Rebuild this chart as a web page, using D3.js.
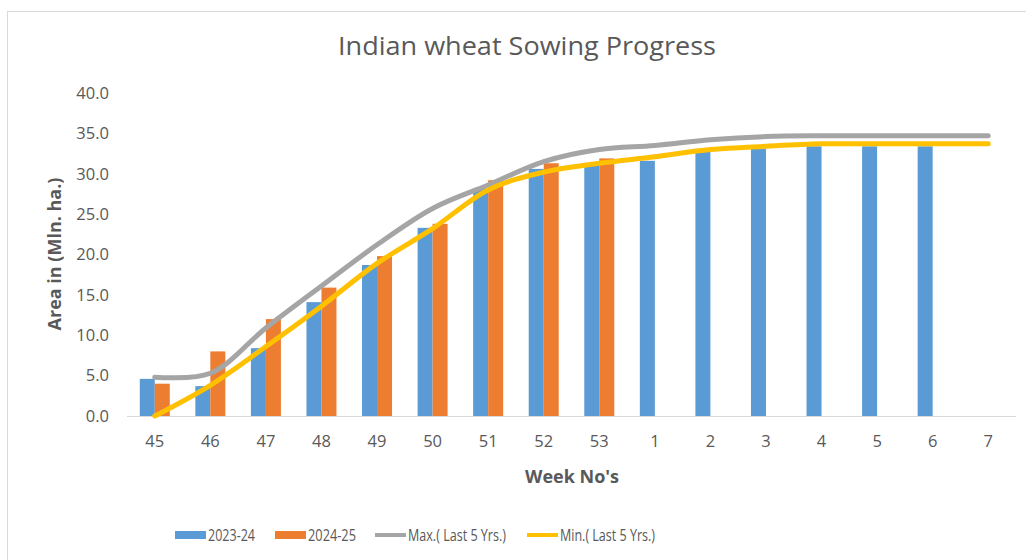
<!DOCTYPE html>
<html>
<head>
<meta charset="utf-8">
<script src="https://cdn.jsdelivr.net/npm/d3@7"></script>
<style>
  body { margin: 0; background: #fff; }
  text { font-family: "Open Sans", "Noto Sans", sans-serif; }
</style>
</head>
<body>
<div id="chart"></div>
<script>
var weeks = ["45","46","47","48","49","50","51","52","53","1","2","3","4","5","6","7"];
var y2023 = [4.6, 3.7, 8.4, 14.1, 18.7, 23.3, 28.2, 30.6, 31.3, 31.6, 32.7, 33.1, 33.4, 33.4, 33.4, null];
var y2024 = [4.0, 8.0, 12.0, 15.9, 19.8, 23.8, 29.2, 31.3, 31.9, null, null, null, null, null, null, null];
var maxLast5 = [4.8, 5.3, 10.9, 16.1, 21.2, 25.7, 28.6, 31.5, 33.0, 33.5, 34.2, 34.6, 34.7, 34.7, 34.7, 34.7];
var minLast5 = [0.0, 3.8, 8.6, 13.6, 18.9, 23.2, 28.0, 30.2, 31.3, 32.1, 33.0, 33.4, 33.7, 33.7, 33.7, 33.7];
var yTicks = [0, 5, 10, 15, 20, 25, 30, 35, 40];

var width = 1026, height = 560;
var plotLeft = 127, plotRight = 1016, plotTop = 93, plotBottom = 416;

var svg = d3.select("#chart").append("svg")
    .attr("width", width)
    .attr("height", height);

// chart frame
svg.append("rect")
    .attr("x", 7.5).attr("y", 11.5)
    .attr("width", 1030).attr("height", 560)
    .attr("fill", "#fff")
    .attr("stroke", "#d9d9d9");

var x = d3.scaleBand()
    .domain(weeks)
    .range([plotLeft, plotRight])
    .paddingInner(0.46)
    .paddingOuter(0.23);

var x1 = d3.scaleBand()
    .domain(["a", "b"])
    .range([0, x.bandwidth()]);

var y = d3.scaleLinear()
    .domain([0, 40])
    .range([plotBottom, plotTop]);

// title
svg.append("text")
    .attr("x", 527).attr("y", 55)
    .attr("text-anchor", "middle")
    .attr("fill", "#595959")
    .style("font-size", "25px")
    .attr("textLength", 378)
    .attr("lengthAdjust", "spacingAndGlyphs")
    .text("Indian wheat Sowing Progress");

// y axis labels
svg.selectAll(".ylab")
    .data(yTicks)
    .enter()
    .append("text")
    .attr("x", 109)
    .attr("y", function(d){ return y(d); })
    .attr("dy", "0.35em")
    .attr("text-anchor", "end")
    .attr("fill", "#595959")
    .style("font-size", "16.5px")
    .text(function(d){ return d.toFixed(1); });

svg.append("text")
    .attr("transform", "translate(55,254) rotate(-90)")
    .attr("text-anchor", "middle")
    .attr("dy", "0.35em")
    .attr("fill", "#595959")
    .style("font-size", "18px")
    .style("font-weight", "bold")
    .text("Area in (Mln. ha.)");

// bars
var g = svg.append("g");
g.selectAll(".b23")
    .data(weeks.map(function(w, i){ return {w: w, v: y2023[i]}; }).filter(function(d){ return d.v != null; }))
    .enter()
    .append("rect")
    .attr("x", function(d){ return x(d.w) + x1("a"); })
    .attr("y", function(d){ return y(d.v); })
    .attr("width", x1.bandwidth())
    .attr("height", function(d){ return plotBottom - y(d.v); })
    .attr("fill", "#5b9bd5");

g.selectAll(".b24")
    .data(weeks.map(function(w, i){ return {w: w, v: y2024[i]}; }).filter(function(d){ return d.v != null; }))
    .enter()
    .append("rect")
    .attr("x", function(d){ return x(d.w) + x1("b"); })
    .attr("y", function(d){ return y(d.v); })
    .attr("width", x1.bandwidth())
    .attr("height", function(d){ return plotBottom - y(d.v); })
    .attr("fill", "#ed7d31");

// x axis line
svg.append("line")
    .attr("x1", plotLeft).attr("x2", plotRight)
    .attr("y1", plotBottom + 0.5).attr("y2", plotBottom + 0.5)
    .attr("stroke", "#d9d9d9");

// lines
var line = d3.line()
    .x(function(d, i){ return x(weeks[i]) + x.bandwidth() / 2; })
    .y(function(d){ return y(d); })
    .curve(d3.curveCatmullRom.alpha(0.5));

svg.append("path")
    .attr("d", line(maxLast5))
    .attr("fill", "none")
    .attr("stroke", "#a5a5a5")
    .attr("stroke-width", 5)
    .attr("stroke-linecap", "round");

svg.append("path")
    .attr("d", line(minLast5))
    .attr("fill", "none")
    .attr("stroke", "#ffc000")
    .attr("stroke-width", 5)
    .attr("stroke-linecap", "round");

// x labels
svg.selectAll(".xlab")
    .data(weeks)
    .enter()
    .append("text")
    .attr("x", function(d){ return x(d) + x.bandwidth() / 2; })
    .attr("y", 441)
    .attr("dy", "0.35em")
    .attr("text-anchor", "middle")
    .attr("fill", "#595959")
    .style("font-size", "16.5px")
    .text(function(d){ return d; });

svg.append("text")
    .attr("x", 572).attr("y", 477)
    .attr("dy", "0.35em")
    .attr("text-anchor", "middle")
    .attr("fill", "#595959")
    .style("font-size", "18px")
    .style("font-weight", "bold")
    .text("Week No's");

// legend
var legend = [
  {name: "2023-24", color: "#5b9bd5", type: "bar", x: 175, w: 47},
  {name: "2024-25", color: "#ed7d31", type: "bar", x: 275, w: 48},
  {name: "Max.( Last 5 Yrs.)", color: "#a5a5a5", type: "line", x: 375, w: 98},
  {name: "Min.( Last 5 Yrs.)", color: "#ffc000", type: "line", x: 527, w: 95}
];
var lg = svg.selectAll(".lg")
    .data(legend)
    .enter()
    .append("g")
    .attr("transform", function(d){ return "translate(" + d.x + ",535)"; });

lg.append("rect")
    .attr("x", 0)
    .attr("y", function(d){ return d.type == "bar" ? -4 : -2; })
    .attr("width", 31)
    .attr("height", function(d){ return d.type == "bar" ? 8 : 4; })
    .attr("fill", function(d){ return d.color; });

lg.append("text")
    .attr("x", 33)
    .attr("dy", "0.35em")
    .attr("fill", "#595959")
    .style("font-size", "16.5px")
    .attr("textLength", function(d){ return d.w; })
    .attr("lengthAdjust", "spacingAndGlyphs")
    .text(function(d){ return d.name; });
</script>
</body>
</html>
